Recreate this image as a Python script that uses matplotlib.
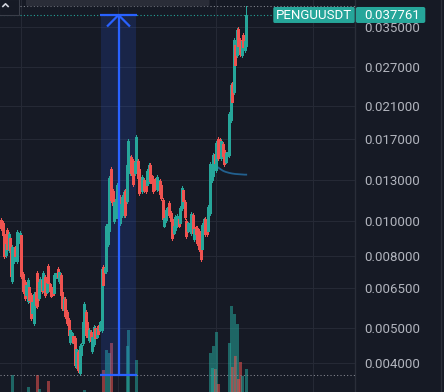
import matplotlib
matplotlib.use("Agg")
import matplotlib.pyplot as plt
import matplotlib.transforms as mtransforms
from matplotlib.collections import LineCollection
from matplotlib.patches import Rectangle, FancyBboxPatch
from matplotlib.ticker import NullLocator

plt.rcParams['font.family'] = ['Roboto', 'DejaVu Sans']

symbol = "PENGUUSDT"

# OHLC, one candle per bar
opens = [0.01006, 0.009867, 0.009193, 0.008028, 0.009433, 0.008291, 0.008958, 0.006788, 0.007723, 0.008453,
         0.007723, 0.008730, 0.008674, 0.009133, 0.007101, 0.006744, 0.006202, 0.005966, 0.006530, 0.006202,
         0.005522, 0.005178, 0.006323, 0.007147, 0.006083, 0.006364, 0.006832, 0.006405, 0.006965, 0.006323,
         0.007478, 0.006658, 0.006530, 0.006405, 0.006282, 0.006921, 0.007334, 0.006788, 0.007056, 0.006323,
         0.005630, 0.006044, 0.005558, 0.005279, 0.004581, 0.004581, 0.004761, 0.004700, 0.003923, 0.004294,
         0.003750, 0.004212, 0.004551, 0.004792, 0.005558, 0.005211, 0.004640, 0.004886, 0.004322, 0.004522,
         0.005013, 0.004731, 0.005079, 0.004949, 0.004949, 0.007430, 0.007194, 0.007240, 0.008618, 0.009372,
         0.01398, 0.01213, 0.009995, 0.01032, 0.01032, 0.01182, 0.009867, 0.01039, 0.01039, 0.01213,
         0.01138, 0.01362, 0.01362, 0.01510, 0.01472, 0.01362, 0.01380, 0.01472, 0.01398, 0.01302,
         0.01213, 0.01302, 0.01294, 0.01261, 0.01294, 0.01435, 0.01336, 0.01311, 0.01302, 0.01229,
         0.01229, 0.01294, 0.01261, 0.01145, 0.009679, 0.01006, 0.01059, 0.01123, 0.01052, 0.01013,
         0.009252, 0.009433, 0.009742, 0.01013, 0.009867, 0.01087, 0.01221, 0.01130, 0.009995, 0.009372,
         0.009617, 0.009252, 0.01039, 0.008900, 0.009617, 0.009555, 0.009372, 0.008674, 0.008345, 0.009555,
         0.01013, 0.009995, 0.009372, 0.01052, 0.01302, 0.01336, 0.01540, 0.01389, 0.01697, 0.01686,
         0.01501, 0.01643, 0.01580, 0.01463, 0.01520, 0.01530, 0.01918, 0.02419, 0.02297, 0.03111,
         0.02917, 0.03450, 0.03213, 0.02917, 0.03319, 0.03013, 0.03091]
highs = [0.01019, 0.009995, 0.009312, 0.008730, 0.009555, 0.009312, 0.008958, 0.008563, 0.008453, 0.008508,
         0.009433, 0.009312, 0.009372, 0.009252, 0.007194, 0.006832, 0.006701, 0.006921, 0.006615, 0.006282,
         0.006005, 0.006323, 0.006405, 0.007240, 0.006832, 0.006965, 0.006921, 0.007240, 0.007056, 0.006744,
         0.007575, 0.006701, 0.006573, 0.006405, 0.007147, 0.007147, 0.007430, 0.007287, 0.007147, 0.006405,
         0.006123, 0.006123, 0.005630, 0.005348, 0.005013, 0.004886, 0.004792, 0.004761, 0.004435, 0.004350,
         0.004522, 0.004551, 0.005279, 0.005928, 0.005630, 0.005279, 0.005013, 0.004949, 0.004792, 0.005111,
         0.005079, 0.005013, 0.005111, 0.005245, 0.007430, 0.007526, 0.007430, 0.009804, 0.009931, 0.01336,
         0.01417, 0.01229, 0.01145, 0.01167, 0.01277, 0.01198, 0.01130, 0.01182, 0.01221, 0.01229,
         0.01454, 0.01697, 0.01520, 0.01530, 0.01491, 0.01482, 0.01741, 0.01491, 0.01417, 0.01302,
         0.01345, 0.01319, 0.01311, 0.01398, 0.01454, 0.01454, 0.01345, 0.01328, 0.01319, 0.01345,
         0.01311, 0.01311, 0.01277, 0.01159, 0.01026, 0.01087, 0.01101, 0.01138, 0.01066, 0.01026,
         0.009742, 0.01039, 0.01046, 0.01019, 0.01101, 0.01253, 0.01237, 0.01145, 0.01013, 0.009931,
         0.009931, 0.01059, 0.01052, 0.009617, 0.009679, 0.009679, 0.009494, 0.008786, 0.009867, 0.01019,
         0.01026, 0.01013, 0.01108, 0.01463, 0.01463, 0.01550, 0.01560, 0.01675, 0.01719, 0.01708,
         0.01697, 0.01664, 0.01601, 0.01560, 0.01560, 0.02020, 0.02434, 0.02450, 0.03255, 0.03151,
         0.03472, 0.03495, 0.03255, 0.03234, 0.03361, 0.03234, 0.04001]
lows = [0.009433, 0.009016, 0.007874, 0.007925, 0.008238, 0.008185, 0.007011, 0.006701, 0.007624, 0.007925,
        0.007624, 0.008674, 0.008563, 0.006921, 0.006282, 0.006005, 0.006123, 0.005890, 0.005928, 0.005279,
        0.005452, 0.005111, 0.005740, 0.005704, 0.006005, 0.006282, 0.006282, 0.006323, 0.006123, 0.006282,
        0.006615, 0.006323, 0.006123, 0.006202, 0.006202, 0.006921, 0.006876, 0.006701, 0.006123, 0.005630,
        0.005558, 0.005348, 0.005111, 0.004731, 0.004522, 0.004551, 0.004551, 0.003898, 0.003873, 0.003774,
        0.003702, 0.004158, 0.004492, 0.004731, 0.004731, 0.004731, 0.004581, 0.004551, 0.004267, 0.004464,
        0.004640, 0.004700, 0.004792, 0.004917, 0.004886, 0.006530, 0.007147, 0.007147, 0.008508, 0.009252,
        0.01130, 0.01094, 0.009867, 0.01019, 0.01019, 0.01026, 0.009742, 0.01026, 0.01026, 0.01026,
        0.01123, 0.01345, 0.01345, 0.01345, 0.01253, 0.01345, 0.01362, 0.01302, 0.01182, 0.01261,
        0.01198, 0.01205, 0.01198, 0.01245, 0.01277, 0.01277, 0.01269, 0.01198, 0.01221, 0.01213,
        0.01221, 0.01174, 0.01145, 0.009995, 0.009617, 0.009931, 0.01052, 0.01026, 0.009867, 0.008843,
        0.009193, 0.009312, 0.009617, 0.009617, 0.009742, 0.01073, 0.01123, 0.01013, 0.008958, 0.009312,
        0.009555, 0.009133, 0.009133, 0.008786, 0.009133, 0.008563, 0.008238, 0.007723, 0.008238, 0.009494,
        0.009074, 0.009074, 0.009252, 0.01039, 0.01285, 0.01319, 0.01435, 0.01371, 0.01482, 0.01530,
        0.01482, 0.01501, 0.01426, 0.01454, 0.01520, 0.01510, 0.01893, 0.02126, 0.02268, 0.02700,
        0.02880, 0.03051, 0.02898, 0.02880, 0.03032, 0.02974, 0.03013]
closes = [0.009555, 0.009133, 0.007976, 0.008618, 0.008345, 0.009193, 0.008291, 0.008453, 0.008345, 0.007976,
          0.009312, 0.009252, 0.009252, 0.007011, 0.006364, 0.006083, 0.006615, 0.006832, 0.006005, 0.005348,
          0.005928, 0.006242, 0.005815, 0.005778, 0.006744, 0.006876, 0.006364, 0.007147, 0.006202, 0.006701,
          0.006701, 0.006364, 0.006162, 0.006202, 0.007056, 0.007147, 0.006965, 0.007194, 0.006202, 0.005704,
          0.006044, 0.005417, 0.005178, 0.004792, 0.004949, 0.004854, 0.004581, 0.003949, 0.004378, 0.003823,
          0.004464, 0.004492, 0.005211, 0.005852, 0.004792, 0.004792, 0.004949, 0.004610, 0.004731, 0.005046,
          0.004700, 0.004981, 0.004823, 0.005211, 0.007334, 0.006615, 0.007382, 0.009679, 0.009804, 0.01319,
          0.01145, 0.01108, 0.01130, 0.01152, 0.01261, 0.01039, 0.01116, 0.01167, 0.01205, 0.01039,
          0.01435, 0.01675, 0.01501, 0.01362, 0.01269, 0.01463, 0.01719, 0.01319, 0.01198, 0.01261,
          0.01328, 0.01221, 0.01213, 0.01380, 0.01435, 0.01294, 0.01277, 0.01213, 0.01237, 0.01328,
          0.01302, 0.01190, 0.01159, 0.01013, 0.01019, 0.01073, 0.01094, 0.01039, 0.009995, 0.008958,
          0.009679, 0.01026, 0.01032, 0.009679, 0.01087, 0.01237, 0.01138, 0.01026, 0.009074, 0.009867,
          0.009867, 0.01046, 0.009252, 0.009494, 0.009193, 0.008674, 0.008345, 0.007823, 0.009742, 0.01013,
          0.009193, 0.009193, 0.01094, 0.01444, 0.01444, 0.01530, 0.01454, 0.01654, 0.01501, 0.01550,
          0.01675, 0.01520, 0.01444, 0.01550, 0.01560, 0.01994, 0.02404, 0.02154, 0.03213, 0.02735,
          0.03427, 0.03091, 0.02936, 0.03193, 0.03071, 0.03193, 0.037761]
volumes = [4, 5, 6, 3, 5, 4, 7, 25, 4, 3,
           6, 3, 4, 7, 6, 5, 4, 13, 3, 7,
           4, 6, 3, 25, 11, 3, 4, 5, 6, 3,
           19, 3, 4, 2, 6, 3, 4, 5, 6, 7,
           4, 6, 5, 7, 5, 3, 3, 7, 6, 5,
           7, 4, 6, 10, 6, 5, 3, 4, 5, 6,
           3, 3, 2, 3, 7, 30, 4, 50, 7, 47,
           57, 7, 6, 5, 7, 6, 5, 4, 6, 7,
           54, 70, 7, 6, 7, 5, 40, 7, 6, 3,
           5, 4, 5, 6, 7, 6, 4, 5, 3, 5,
           3, 5, 4, 7, 4, 5, 3, 5, 4, 7,
           3, 5, 4, 3, 6, 7, 5, 6, 7, 3,
           2, 6, 5, 4, 3, 5, 6, 7, 6, 3,
           5, 4, 7, 47, 32, 54, 31, 68, 16, 7,
           6, 5, 7, 4, 3, 57, 94, 33, 86, 44,
           76, 21, 38, 24, 7, 6, 31]

# short moving-average stub drawn over the last candles
ma_start = 138
ma_values = [0.01413, 0.01403, 0.01393, 0.01384, 0.01377, 0.01372, 0.01368, 0.01364, 0.01361, 0.01358,
             0.01356, 0.01354, 0.01353, 0.01352, 0.01351, 0.01350, 0.01349, 0.01348, 0.01348]

price_ticks = [0.035, 0.027, 0.021, 0.017, 0.013, 0.010, 0.008, 0.0065, 0.005, 0.004]
tick_labels = ["0.035000", "0.027000", "0.021000", "0.017000", "0.013000",
               "0.010000", "0.008000", "0.006500", "0.005000", "0.004000"]
time_grid = [12.7, 74.4, 136.8, 198.5]
measure_span = [63.6, 85.9]

BG = "#161a25"
GRID = "#252935"
UP = "#26a69a"
DOWN = "#ef5350"
BLUE = "#2962ff"
TXT = "#b2b5be"

W, H = 444, 392
fig = plt.figure(figsize=(W / 100, H / 100), dpi=100, facecolor=BG)
ax = fig.add_axes([0, 0, 355 / W, 1])
ax.set_facecolor(BG)
ax.set_yscale("log")
ax.set_xlim(-0.64, 225.2)
ax.set_ylim(0.003317, 0.04159)

n = len(closes)
xs = list(range(n))
cols = [UP if c >= o else DOWN for o, c in zip(opens, closes)]

for p in price_ticks:
    ax.axhline(p, color=GRID, lw=0.8, zorder=0)
for t in time_grid:
    ax.axvline(t, color=GRID, lw=0.8, zorder=0)

# volume at the bottom, base a few pixels under the frame
vtrans = mtransforms.blended_transform_factory(
    ax.transData,
    mtransforms.Affine2D().scale(1, 1 / H).translate(0, -8 / H) + ax.transAxes)
vsegs = [[(x, 0), (x, v)] for x, v in zip(xs, volumes)]
vlc = LineCollection(vsegs, colors=cols, linewidths=0.8, alpha=0.55,
                     transform=vtrans, zorder=1, antialiaseds=False)
ax.add_collection(vlc, autolim=False)

# measure tool
mtop = closes[-1]
mbot = min(lows)
mid = sum(measure_span) / 2
ax.fill_between(measure_span, mbot, mtop, color=BLUE, alpha=0.16, lw=0, zorder=1.5)

# candles
ax.vlines(xs, lows, highs, colors=cols, lw=0.6, zorder=3, antialiased=False)
ax.vlines(xs, [min(o, c) for o, c in zip(opens, closes)],
          [max(o, c) for o, c in zip(opens, closes)], colors=cols, lw=0.85, zorder=3,
          antialiased=False)

ax.plot(range(ma_start, ma_start + len(ma_values)), ma_values, color="#22608f", lw=1.3, zorder=2.5)

ax.hlines([mtop, mbot], measure_span[0] - 0.6, measure_span[1] + 0.3, color=BLUE, lw=1.6, zorder=5)
ax.vlines(mid, mbot, mtop, color=BLUE, lw=1.6, zorder=5)
ax.plot([mid - 6.8, mid, mid + 6.8], [mtop * 0.933, mtop, mtop * 0.933], color=BLUE, lw=1.6, zorder=5)

# high / low and last price lines
ax.axhline(max(highs), color="#8a8d96", lw=0.75, ls=(0, (1, 2.2)), zorder=4)
ax.axhline(mbot, color="#8a8d96", lw=0.75, ls=(0, (1, 2.2)), zorder=4)
ax.axhline(closes[-1], xmax=273 / 355, color=UP, lw=0.8, ls=(0, (1, 2)), zorder=4)

ax.yaxis.tick_right()
ax.set_yticks(price_ticks)
ax.set_yticklabels(tick_labels)
ax.yaxis.set_minor_locator(NullLocator())
ax.tick_params(axis="y", length=0, pad=6.5, labelcolor=TXT, labelsize=9.5)
ax.set_xticks([])
for s in ["top", "left", "bottom"]:
    ax.spines[s].set_visible(False)
ax.spines["right"].set_color("#2a2e39")
ax.spines["right"].set_linewidth(1)

# overlay in pixel coordinates for the UI bits
ov = fig.add_axes([0, 0, 1, 1], zorder=10)
ov.set_xlim(0, W)
ov.set_ylim(H, 0)
ov.axis("off")
ov.patch.set_alpha(0)

ov.add_patch(FancyBboxPatch((26, -4), 183.5, 10.3, boxstyle="round,pad=0,rounding_size=2",
                            fc="#2a2d38", ec="none"))
ov.add_patch(Rectangle((-1, -1), 20, 16, fc=BG, ec="#3a3e49", lw=0.8))
ov.plot([2.3, 5.5, 8.7], [7, 3.8, 7], color="#d1d4dc", lw=1.2, solid_capstyle="butt")
ov.plot([440.5, 440.5], [0, H], color="#2a2e39", lw=1)

y_px = H - ax.transData.transform((0, closes[-1]))[1]
ov.add_patch(FancyBboxPatch((273.3, y_px - 8), 81.4, 16, boxstyle="round,pad=0,rounding_size=1.5",
                            fc=UP, ec="none"))
ov.add_patch(FancyBboxPatch((355.8, y_px - 8), 69.5, 16, boxstyle="round,pad=0,rounding_size=2",
                            fc=UP, ec="none"))
ov.text(314, y_px + 4.5, symbol, ha="center", va="baseline", color="white", fontsize=9.5)
ov.text(364, y_px + 4.5, f"{closes[-1]:.6f}", ha="left", va="baseline", color="white", fontsize=9.5)

fig.savefig("out.png", dpi=100, facecolor=BG)
